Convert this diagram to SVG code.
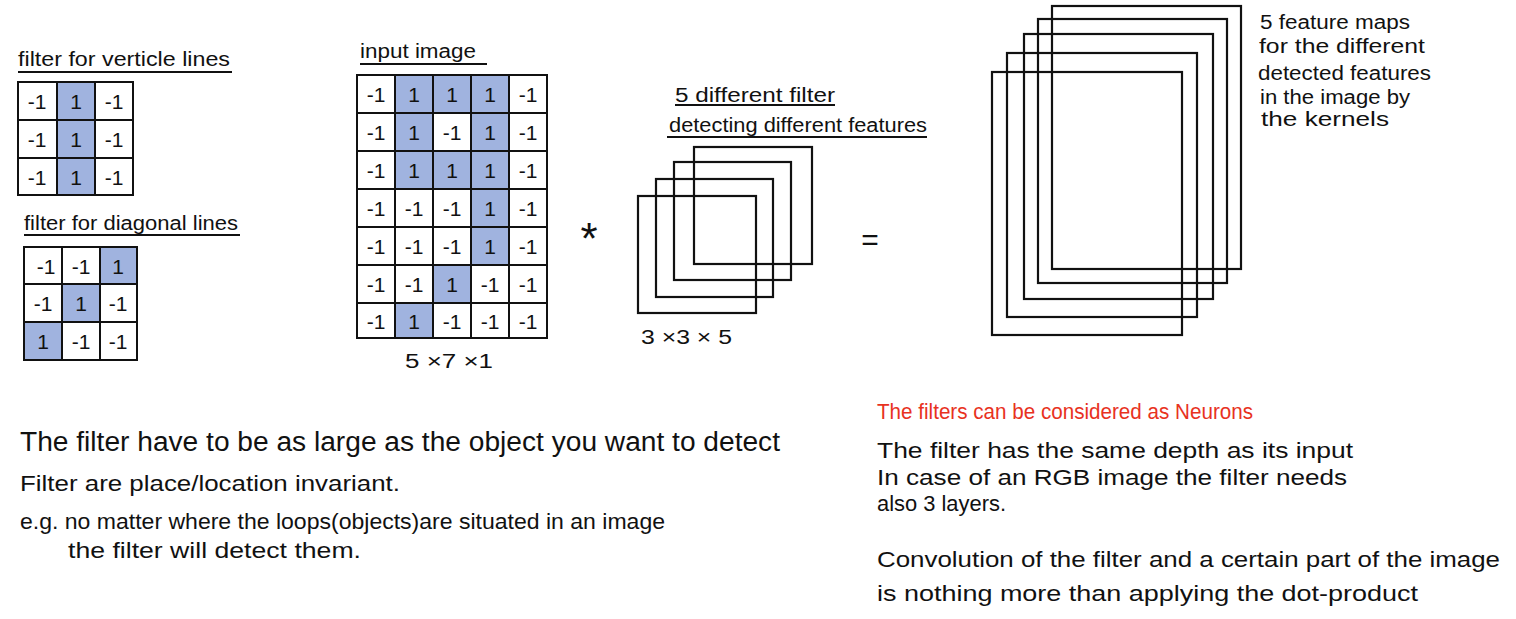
<svg xmlns="http://www.w3.org/2000/svg" width="1516" height="619" viewBox="0 0 1516 619">
<style>
text{font-family:"Liberation Sans","DejaVu Sans",sans-serif;fill:#111}
.g{fill:#fff;stroke:#111;stroke-width:2}
.s{fill:#a0b3df;stroke:#111;stroke-width:2}
.c{font-size:21px;text-anchor:middle}
.ul{stroke:#111;stroke-width:2}
.box{fill:none;stroke:#111;stroke-width:2.2}
.t1{font-size:20px}
.big{font-size:27px}
.mid{font-size:22px}
.red{fill:#e8321e}
</style>
<rect width="1516" height="619" fill="#fff"/>

<g id="filter-vertical">
<text class="t1" x="18" y="66" textLength="212" lengthAdjust="spacingAndGlyphs">filter for verticle lines</text>
<line class="ul" x1="18" y1="72" x2="232" y2="72"/>
<rect class="g" x="18" y="82" width="39" height="38"/><rect class="s" x="57" y="82" width="38" height="38"/><rect class="g" x="95" y="82" width="38" height="38"/>
<rect class="g" x="18" y="120" width="39" height="38"/><rect class="s" x="57" y="120" width="38" height="38"/><rect class="g" x="95" y="120" width="38" height="38"/>
<rect class="g" x="18" y="158" width="39" height="37"/><rect class="s" x="57" y="158" width="38" height="37"/><rect class="g" x="95" y="158" width="38" height="37"/>
<text class="c" x="37" y="109">-1</text><text class="c" x="76" y="109">1</text><text class="c" x="114" y="109">-1</text>
<text class="c" x="37" y="147">-1</text><text class="c" x="76" y="147">1</text><text class="c" x="114" y="147">-1</text>
<text class="c" x="37" y="185">-1</text><text class="c" x="76" y="185">1</text><text class="c" x="114" y="185">-1</text>
</g>

<g id="filter-diagonal">
<text class="t1" x="24" y="230" textLength="214" lengthAdjust="spacingAndGlyphs">filter for diagonal lines</text>
<line class="ul" x1="24" y1="235" x2="240" y2="235"/>
<rect class="g" x="24" y="247" width="38" height="37"/><rect class="g" x="62" y="247" width="38" height="37"/><rect class="s" x="100" y="247" width="37" height="37"/>
<rect class="g" x="24" y="284" width="38" height="38"/><rect class="s" x="62" y="284" width="38" height="38"/><rect class="g" x="100" y="284" width="37" height="38"/>
<rect class="s" x="24" y="322" width="38" height="38"/><rect class="g" x="62" y="322" width="38" height="38"/><rect class="g" x="100" y="322" width="37" height="38"/>
<text class="c" x="46" y="274">-1</text><text class="c" x="81" y="274">-1</text><text class="c" x="118" y="274">1</text>
<text class="c" x="43" y="311">-1</text><text class="c" x="81" y="311">1</text><text class="c" x="118" y="311">-1</text>
<text class="c" x="43" y="349">1</text><text class="c" x="81" y="349">-1</text><text class="c" x="118" y="349">-1</text>
</g>

<g id="input-image">
<text class="t1" x="360" y="58" textLength="116" lengthAdjust="spacingAndGlyphs">input image</text>
<line class="ul" x1="360" y1="64" x2="487" y2="64"/>
<g>
<rect class="g" x="357" y="75" width="38" height="38"/><rect class="s" x="395" y="75" width="38" height="38"/><rect class="s" x="433" y="75" width="38" height="38"/><rect class="s" x="471" y="75" width="38" height="38"/><rect class="g" x="509" y="75" width="38" height="38"/>
<rect class="g" x="357" y="113" width="38" height="38"/><rect class="s" x="395" y="113" width="38" height="38"/><rect class="g" x="433" y="113" width="38" height="38"/><rect class="s" x="471" y="113" width="38" height="38"/><rect class="g" x="509" y="113" width="38" height="38"/>
<rect class="g" x="357" y="151" width="38" height="38"/><rect class="s" x="395" y="151" width="38" height="38"/><rect class="s" x="433" y="151" width="38" height="38"/><rect class="s" x="471" y="151" width="38" height="38"/><rect class="g" x="509" y="151" width="38" height="38"/>
<rect class="g" x="357" y="189" width="38" height="38"/><rect class="g" x="395" y="189" width="38" height="38"/><rect class="g" x="433" y="189" width="38" height="38"/><rect class="s" x="471" y="189" width="38" height="38"/><rect class="g" x="509" y="189" width="38" height="38"/>
<rect class="g" x="357" y="227" width="38" height="38"/><rect class="g" x="395" y="227" width="38" height="38"/><rect class="g" x="433" y="227" width="38" height="38"/><rect class="s" x="471" y="227" width="38" height="38"/><rect class="g" x="509" y="227" width="38" height="38"/>
<rect class="g" x="357" y="265" width="38" height="38"/><rect class="g" x="395" y="265" width="38" height="38"/><rect class="s" x="433" y="265" width="38" height="38"/><rect class="g" x="471" y="265" width="38" height="38"/><rect class="g" x="509" y="265" width="38" height="38"/>
<rect class="g" x="357" y="303" width="38" height="35"/><rect class="s" x="395" y="303" width="38" height="35"/><rect class="g" x="433" y="303" width="38" height="35"/><rect class="g" x="471" y="303" width="38" height="35"/><rect class="g" x="509" y="303" width="38" height="35"/>
</g>
<g>
<text class="c" x="376" y="102">-1</text><text class="c" x="414" y="102">1</text><text class="c" x="452" y="102">1</text><text class="c" x="490" y="102">1</text><text class="c" x="528" y="102">-1</text>
<text class="c" x="376" y="140">-1</text><text class="c" x="414" y="140">1</text><text class="c" x="452" y="140">-1</text><text class="c" x="490" y="140">1</text><text class="c" x="528" y="140">-1</text>
<text class="c" x="376" y="178">-1</text><text class="c" x="414" y="178">1</text><text class="c" x="452" y="178">1</text><text class="c" x="490" y="178">1</text><text class="c" x="528" y="178">-1</text>
<text class="c" x="376" y="216">-1</text><text class="c" x="414" y="216">-1</text><text class="c" x="452" y="216">-1</text><text class="c" x="490" y="216">1</text><text class="c" x="528" y="216">-1</text>
<text class="c" x="376" y="254">-1</text><text class="c" x="414" y="254">-1</text><text class="c" x="452" y="254">-1</text><text class="c" x="490" y="254">1</text><text class="c" x="528" y="254">-1</text>
<text class="c" x="376" y="292">-1</text><text class="c" x="414" y="292">-1</text><text class="c" x="452" y="292">1</text><text class="c" x="490" y="292">-1</text><text class="c" x="528" y="292">-1</text>
<text class="c" x="376" y="329">-1</text><text class="c" x="414" y="329">1</text><text class="c" x="452" y="329">-1</text><text class="c" x="490" y="329">-1</text><text class="c" x="528" y="329">-1</text>
</g>
<text class="t1" x="405" y="368" textLength="88" lengthAdjust="spacingAndGlyphs">5 ×7 ×1</text>
</g>

<g id="operators">
<text x="589" y="254" style="font-size:44px;text-anchor:middle">*</text>
<text x="870" y="250" style="font-size:30px;text-anchor:middle">=</text>
</g>

<g id="filters-stack">
<text class="t1" x="675" y="102" textLength="160" lengthAdjust="spacingAndGlyphs">5 different filter</text>
<line class="ul" x1="675" y1="105" x2="835" y2="105"/>
<text class="t1" x="669" y="132" textLength="258" lengthAdjust="spacingAndGlyphs">detecting different features</text>
<line class="ul" x1="667" y1="137" x2="927" y2="137"/>
<rect class="box" x="694" y="147" width="118" height="117"/>
<rect class="box" x="674" y="162" width="117" height="118"/>
<rect class="box" x="656" y="179" width="117" height="118"/>
<rect class="box" x="638" y="196" width="118" height="117"/>
<text class="t1" x="641" y="344" textLength="91" lengthAdjust="spacingAndGlyphs">3 ×3 × 5</text>
</g>

<g id="feature-maps">
<rect class="box" x="1052" y="6" width="189" height="263"/>
<rect class="box" x="1038" y="19" width="189" height="264"/>
<rect class="box" x="1024" y="34" width="189" height="265"/>
<rect class="box" x="1007" y="53" width="190" height="264"/>
<rect class="box" x="992" y="72" width="190" height="263"/>
<text class="t1" x="1260" y="29" textLength="150" lengthAdjust="spacingAndGlyphs">5 feature maps</text>
<text class="t1" x="1259" y="53" textLength="166" lengthAdjust="spacingAndGlyphs">for the different</text>
<text class="t1" x="1258" y="80" textLength="173" lengthAdjust="spacingAndGlyphs">detected features</text>
<text class="t1" x="1260" y="104" textLength="150" lengthAdjust="spacingAndGlyphs">in the image by</text>
<text class="t1" x="1261" y="126" textLength="128" lengthAdjust="spacingAndGlyphs">the kernels</text>
</g>

<g id="notes-left">
<text class="big" x="20" y="451" textLength="760" lengthAdjust="spacingAndGlyphs">The filter have to be as large as the object you want to detect</text>
<text class="mid" x="20" y="491" textLength="380" lengthAdjust="spacingAndGlyphs">Filter are place/location invariant.</text>
<text class="mid" x="20" y="529" textLength="645" lengthAdjust="spacingAndGlyphs">e.g. no matter where the loops(objects)are situated in an image</text>
<text class="mid" x="68" y="558" textLength="293" lengthAdjust="spacingAndGlyphs">the filter will detect them.</text>
</g>

<g id="notes-right">
<text class="mid red" x="877" y="419" textLength="376" lengthAdjust="spacingAndGlyphs">The filters can be considered as Neurons</text>
<text class="mid" x="877" y="458" textLength="476" lengthAdjust="spacingAndGlyphs">The filter has the same depth as its input</text>
<text class="mid" x="877" y="485" textLength="470" lengthAdjust="spacingAndGlyphs">In case of an RGB image the filter needs</text>
<text class="mid" x="877" y="511" textLength="129" lengthAdjust="spacingAndGlyphs">also 3 layers.</text>
<text class="mid" x="877" y="567" textLength="623" lengthAdjust="spacingAndGlyphs">Convolution of the filter and a certain part of the image</text>
<text class="mid" x="877" y="601" textLength="541" lengthAdjust="spacingAndGlyphs">is nothing more than applying the dot-product</text>
</g>

<g id="connectors"></g>
</svg>
